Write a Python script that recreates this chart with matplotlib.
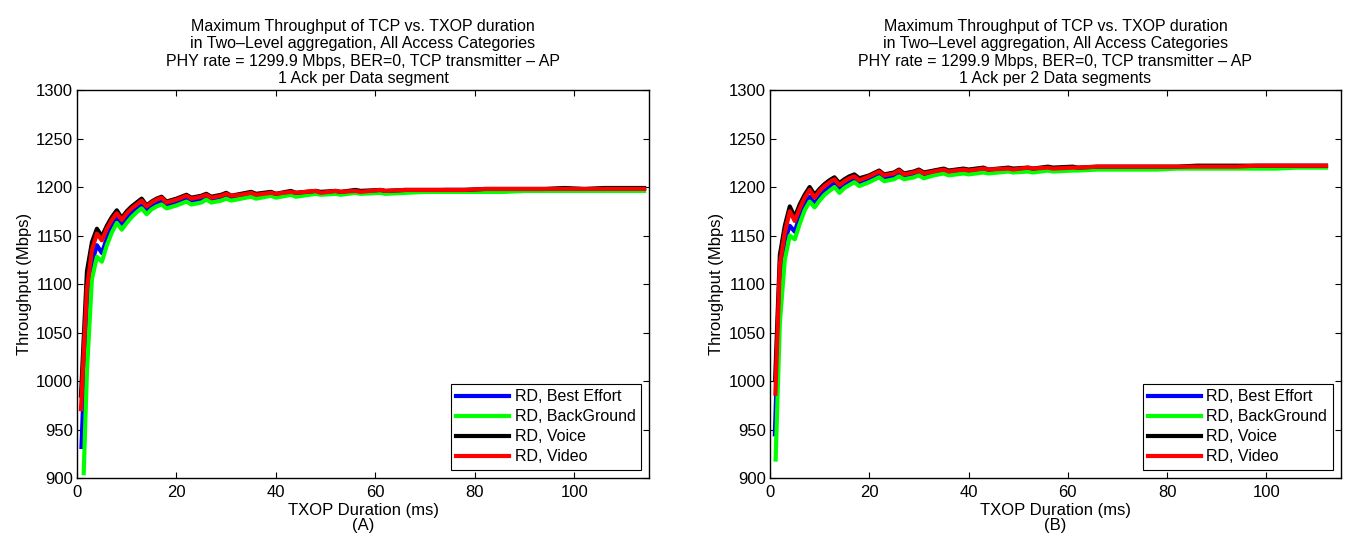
import matplotlib
matplotlib.use('Agg')
import matplotlib.pyplot as plt

plt.rcParams['font.family'] = ['Liberation Sans', 'DejaVu Sans']

# ---- data -------------------------------------------------------------
labels = ['RD, Best Effort', 'RD, BackGround', 'RD, Voice', 'RD, Video']
colors = ['#0000ff', '#00ff00', '#000000', '#ff0000']

# TXOP durations (ms), panel A
xa = [1, 2, 3, 4, 5, 6, 7, 8, 9, 10, 11, 12, 13, 14, 15, 16, 17, 18,
      20, 22, 23, 25, 26, 27, 29, 30, 31, 33, 35, 36, 39, 40, 43, 44,
      48, 49, 52, 53, 56, 57, 61, 62,
      66, 70, 74, 78, 82, 86, 90, 94, 98, 102, 106, 110, 114]
xa_first = [0.9, 1.35, 0.8, 0.8]   # first TXOP of each access category

a_be = [932, 1080, 1122, 1140, 1132, 1147, 1160, 1169, 1162, 1168, 1174, 1178, 1181, 1175, 1180, 1183, 1185, 1181,
        1184, 1188, 1185, 1187, 1190, 1187, 1189, 1191, 1189, 1190, 1192, 1190, 1193, 1191, 1194, 1192,
        1195, 1193, 1195, 1194, 1196, 1195, 1196, 1195,
        1196, 1196, 1197, 1197, 1197, 1197, 1197, 1197, 1197, 1197, 1198, 1198, 1198]
a_bk = [905, 1010, 1105, 1128, 1123, 1140, 1153, 1163, 1156, 1163, 1169, 1174, 1178, 1172, 1177, 1180, 1182, 1178,
        1181, 1185, 1182, 1184, 1187, 1184, 1186, 1188, 1186, 1188, 1190, 1188, 1191, 1189, 1192, 1190,
        1193, 1192, 1193, 1192, 1194, 1193, 1194, 1193,
        1194, 1195, 1195, 1195, 1195, 1195, 1196, 1196, 1196, 1196, 1196, 1196, 1196]
a_vo = [985, 1113, 1143, 1157, 1149, 1160, 1169, 1176, 1168, 1175, 1180, 1184, 1188, 1181, 1185, 1188, 1190, 1185,
        1188, 1192, 1189, 1191, 1193, 1190, 1192, 1194, 1191, 1193, 1195, 1193, 1195, 1193, 1196, 1194,
        1196, 1195, 1196, 1195, 1197, 1196, 1197, 1196,
        1197, 1197, 1197, 1197, 1198, 1198, 1198, 1198, 1199, 1198, 1199, 1199, 1199]
a_vi = [971, 1095, 1135, 1152, 1145, 1157, 1166, 1173, 1166, 1173, 1178, 1182, 1186, 1180, 1184, 1187, 1189, 1184,
        1187, 1191, 1188, 1190, 1192, 1189, 1191, 1193, 1191, 1192, 1194, 1192, 1194, 1193, 1195, 1194,
        1196, 1194, 1196, 1195, 1196, 1195, 1197, 1196,
        1197, 1197, 1197, 1197, 1198, 1198, 1198, 1198, 1198, 1198, 1198, 1198, 1198]

# TXOP durations (ms), panel B
xb = [1, 2, 3, 4, 5, 6, 7, 8, 9, 10, 11, 12, 13, 14, 15, 16, 17, 18,
      20, 22, 23, 25, 26, 27, 29, 30, 31, 33, 35, 36, 39, 40, 43, 44,
      48, 49, 52, 53, 56, 57, 61, 62,
      66, 70, 74, 78, 82, 86, 90, 94, 98, 102, 106, 110, 112]
xb_first = [1.0, 1.15, 1.05, 1.1]

b_be = [945, 1105, 1145, 1160, 1154, 1170, 1182, 1190, 1183, 1190, 1196, 1200, 1204, 1198, 1203, 1206, 1208, 1204,
        1208, 1213, 1209, 1211, 1214, 1210, 1212, 1215, 1212, 1214, 1216, 1214, 1216, 1215, 1217, 1216,
        1218, 1217, 1218, 1217, 1219, 1218, 1219, 1218,
        1219, 1220, 1220, 1220, 1220, 1220, 1220, 1221, 1221, 1221, 1221, 1221, 1221]
b_bk = [919, 1060, 1125, 1150, 1146, 1162, 1176, 1185, 1179, 1186, 1192, 1196, 1200, 1194, 1199, 1202, 1205, 1201,
        1205, 1210, 1206, 1208, 1211, 1208, 1210, 1212, 1209, 1212, 1214, 1212, 1214, 1213, 1215, 1214,
        1216, 1215, 1216, 1215, 1217, 1216, 1217, 1217,
        1218, 1218, 1218, 1218, 1219, 1219, 1219, 1219, 1219, 1219, 1220, 1220, 1220]
b_vo = [1001, 1130, 1160, 1180, 1169, 1182, 1192, 1200, 1192, 1198, 1203, 1207, 1210, 1204, 1208, 1211, 1213, 1209,
        1212, 1217, 1213, 1215, 1218, 1214, 1216, 1218, 1215, 1217, 1219, 1217, 1219, 1218, 1220, 1218,
        1220, 1219, 1220, 1219, 1221, 1220, 1221, 1220,
        1221, 1221, 1221, 1221, 1221, 1222, 1222, 1222, 1222, 1222, 1222, 1222, 1222]
b_vi = [987, 1120, 1153, 1175, 1165, 1178, 1189, 1197, 1189, 1196, 1201, 1205, 1208, 1202, 1206, 1209, 1211, 1207,
        1211, 1216, 1212, 1214, 1217, 1213, 1215, 1217, 1214, 1216, 1218, 1216, 1218, 1217, 1219, 1218,
        1219, 1218, 1220, 1219, 1220, 1219, 1220, 1220,
        1221, 1221, 1221, 1221, 1221, 1221, 1221, 1221, 1222, 1222, 1222, 1222, 1222]

title_common = ('Maximum Throughput of TCP vs. TXOP duration\n'
                'in Two\u2013Level aggregation, All Access Categories\n'
                'PHY rate = 1299.9 Mbps, BER=0, TCP transmitter \u2013 AP\n')
panels = [
    ([0.0572, 0.1197, 0.425, 0.7145], xa, xa_first, [a_be, a_bk, a_vo, a_vi],
     '1 Ack per Data segment', '(A)'),
    ([0.572, 0.1197, 0.4242, 0.7145], xb, xb_first, [b_be, b_bk, b_vo, b_vi],
     '1 Ack per 2 Data segments', '(B)'),
]

# ---- plot -------------------------------------------------------------
FS = 11.5    # title / legend
FS_AX = 12   # tick labels / axis labels
fig = plt.figure(figsize=(13.46, 5.43), dpi=100)

for pos, x, x_first, series, sub, tag in panels:
    ax = fig.add_axes(pos)
    for y, x0, c, lab in zip(series, x_first, colors, labels):
        ax.plot([x0] + x[1:], y, color=c, lw=3, label=lab)

    ax.set_xlim(0, 115)
    ax.set_ylim(900, 1300)
    ax.set_xticks([0, 20, 40, 60, 80, 100])
    ax.set_yticks(range(900, 1301, 50))
    ax.tick_params(direction='in', top=True, right=True, length=4,
                   width=0.8, labelsize=FS_AX)
    ax.tick_params(axis='x', pad=5)
    ax.tick_params(axis='y', pad=3)
    for sp in ax.spines.values():
        sp.set_linewidth(1.0)

    ax.set_title(title_common + sub, fontsize=FS, linespacing=1.2, pad=5)
    ax.set_xlabel('TXOP Duration (ms)\n' + tag, fontsize=FS_AX, linespacing=1.0, labelpad=2)
    ax.set_ylabel('Throughput (Mbps)', fontsize=FS_AX, labelpad=3)

    leg = ax.legend(loc='lower right', fontsize=FS, handlelength=3.3,
                    handletextpad=0.35, labelspacing=0.32, borderaxespad=0.5,
                    fancybox=False, framealpha=1, borderpad=0.35)
    leg.get_frame().set_edgecolor('black')
    leg.get_frame().set_linewidth(0.8)

plt.savefig('out.png', dpi=100)
